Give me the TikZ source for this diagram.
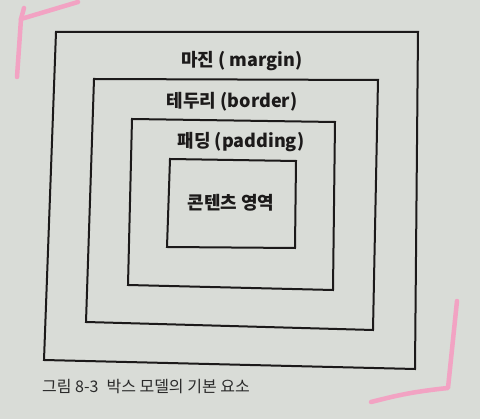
\documentclass[tikz,border=0pt]{standalone}
\usepackage{fontspec}
\setmainfont{Noto Sans CJK KR}
\newfontfamily\krfont{Noto Sans CJK KR}
\definecolor{paper}{HTML}{D9DCD7}
\definecolor{ink}{HTML}{1C1A1A}
\definecolor{hilite}{HTML}{F2A3C3}
\definecolor{captionink}{HTML}{2A2A2A}
\tikzset{
  boxline/.style={draw=ink, line width=2pt, line join=miter},
  lbl/.style={text=ink, font=\krfont\bfseries\fontsize{18}{20}\selectfont, inner sep=0pt, anchor=center},
  marker/.style={draw=hilite, line width=4.5pt, line cap=round, line join=round},
}
\begin{document}
\begin{tikzpicture}[x=1pt,y=-1pt]
  \fill[paper] (0,0) rectangle (480,419);
  \useasboundingbox (0,0) rectangle (480,419);
  % outer (margin)
  \coordinate (m1) at (56,32);  \coordinate (m2) at (418,32);
  \coordinate (m3) at (415,369); \coordinate (m4) at (44,360);
  % border
  \coordinate (b1) at (94,79);  \coordinate (b2) at (378,80);
  \coordinate (b3) at (373,330); \coordinate (b4) at (86,322);
  % padding
  \coordinate (p1) at (132,119); \coordinate (p2) at (335,122);
  \coordinate (p3) at (333,290); \coordinate (p4) at (128,285);
  % content
  \coordinate (c1) at (170,159); \coordinate (c2) at (296,161);
  \coordinate (c3) at (295,248); \coordinate (c4) at (167,247);
  \draw[boxline] (m1) -- (m2) -- (m3) -- (m4) -- cycle;
  \draw[boxline] (b1) -- (b2) -- (b3) -- (b4) -- cycle;
  \draw[boxline] (p1) -- (p2) -- (p3) -- (p4) -- cycle;
  \draw[boxline] (c1) -- (c2) -- (c3) -- (c4) -- cycle;
  \node[lbl] (lmargin) at (242,61) {마진 ( margin)};
  \node[lbl] (lborder) at (232,102) {테두리 (border)};
  \node[lbl] (lpadding) at (241,142) {패딩 (padding)};
  \node[lbl] (lcontent) at (231,203) {콘텐츠 영역};
  \node[anchor=west, inner sep=0pt, text=captionink, font=\krfont\fontsize{16}{18}\selectfont] (caption) at (42,387) {그림 8-3\hspace{8pt}박스 모델의 기본 요소};
  % highlighter marks
  \coordinate (h1) at (17,77); \coordinate (h2) at (21,19); \coordinate (h3) at (24,8);
  \coordinate (h4) at (78,2);
  \draw[marker] (h1) -- (h2) -- (h3);
  \draw[marker] (h2) -- (h4);
  \coordinate (k1) at (457,301); \coordinate (k2) at (448,388); \coordinate (k3) at (371,402);
  \draw[marker] (k1) -- (k2) .. controls (410,392) and (395,396) .. (k3);
\end{tikzpicture}
\end{document}
